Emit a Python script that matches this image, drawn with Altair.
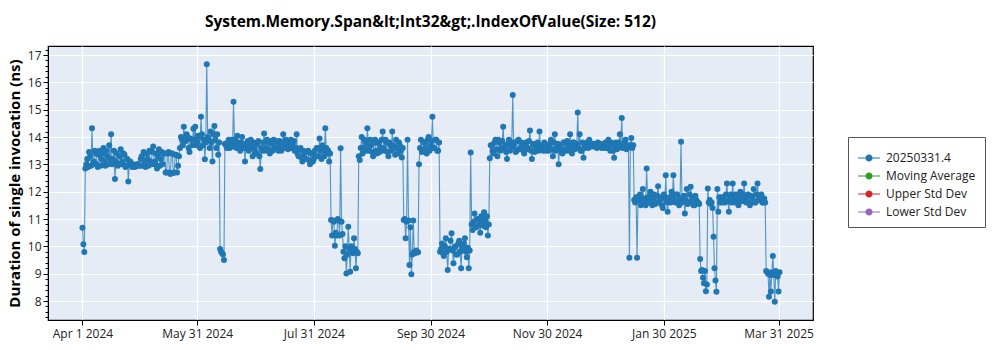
import altair as alt
import pandas as pd

FONT = "Open Sans"
series_name = "20250331.4"
legend_names = ["20250331.4", "Moving Average", "Upper Std Dev", "Lower Std Dev"]
legend_colors = ["#1f77b4", "#2ca02c", "#d62728", "#9467bd"]
tick_dates = ["2024-04-01", "2024-05-31", "2024-07-31", "2024-09-30",
              "2024-11-30", "2025-01-30", "2025-03-31"]

# first run of each day (00:00)
apr_2024_a = [10.68, 9.79, 13.0, 12.9, 13.3, 14.32, 13.1, 13.4, 12.9, 13.5,
              13.2, 13.6, 12.95, 13.3, 13.7, 14.1, 13.2, 12.46, 13.4, 13.0,
              13.55, 13.1, 13.35, 12.95, 12.37, 13.1, 12.9, 12.95, 12.95, 13.0]
may_2024_a = [12.95, 13.3, 13.45, 12.9, 13.2, 13.5, 13.0, 13.65, 13.1, 12.85,
              13.55, 13.2, 13.0, 13.4, 12.7, 13.45, 12.65, 13.4, 12.7, 13.35,
              12.95, 13.6, 13.9, 14.38, 13.85, 14.0, 13.45, 13.9, 14.3, 14.38, 13.8]
jun_2024_a = [14.0, 14.74, 13.7, 13.19, 16.66, 13.9, 14.2, 13.1, 14.4, 13.6,
              13.35, 9.9, 9.75, 9.5, 13.7, 13.8, 13.6, 13.9, 15.29, 13.75,
              14.05, 13.7, 13.8, 13.6, 13.1, 13.7, 13.5, 13.9, 13.3, 13.6]
jul_2024_a = [13.4, 13.85, 12.83, 13.5, 14.13, 13.6, 13.8, 13.4, 13.75, 13.9,
              13.6, 13.7, 13.85, 13.5, 14.1, 13.7, 13.8, 13.6, 13.9, 13.7,
              13.5, 14.1, 13.3, 13.6, 13.1, 13.4, 13.2, 13.5, 13.0, 13.4, 13.2]
aug_2024_a = [13.3, 13.6, 13.95, 13.2, 13.5, 14.32, 13.4, 13.1, 10.96, 10.95,
              10.02, 10.4, 10.95, 13.59, 10.45, 9.56, 9.01, 10.72, 9.07, 9.8,
              10.3, 9.2, 9.75, 13.16, 14.0, 13.6, 13.8, 14.32, 13.5, 13.7, 13.3]
sep_2024_a = [13.9, 13.4, 13.75, 13.6, 14.2, 13.5, 13.8, 13.3, 13.7, 14.2,
              13.6, 13.9, 13.4, 13.7, 13.25, 10.96, 10.3, 13.9, 9.32, 8.98,
              10.95, 9.75, 9.8, 13.0, 13.9, 13.5, 13.8, 13.4, 14.0, 13.7]
oct_2024_a = [14.74, 13.6, 13.9, 13.5, 9.8, 10.1, 9.65, 10.3, 9.13, 9.9,
              10.48, 9.38, 10.0, 9.7, 10.2, 9.2, 9.9, 10.3, 9.6, 9.2,
              13.43, 10.6, 11.2, 10.7, 11.0, 10.5, 10.9, 11.25, 10.7, 10.4, 13.22]
nov_2024_a = [13.7, 13.4, 13.9, 13.3, 13.8, 13.6, 14.38, 13.7, 13.2, 13.9,
              13.6, 15.54, 13.8, 13.5, 13.9, 13.6, 13.7, 13.4, 13.8, 13.6,
              14.24, 13.2, 13.7, 13.5, 13.8, 14.2, 13.6, 13.5, 13.75, 13.6]
dec_2024_a = [13.5, 13.9, 13.3, 14.1, 13.6, 13.0, 13.7, 13.4, 13.8, 13.5,
              13.7, 14.1, 13.4, 13.8, 13.6, 14.9, 14.1, 13.5, 13.24, 13.7,
              13.8, 13.9, 13.65, 13.75, 13.7, 13.6, 13.7, 13.75, 13.65, 13.6, 13.8]
jan_2025_a = [13.9, 13.5, 13.75, 13.24, 13.8, 13.6, 14.1, 14.7, 13.7, 13.9,
              13.6, 9.58, 13.96, 13.7, 11.6, 9.58, 11.8, 11.5, 12.1, 11.6,
              12.85, 11.7, 12.0, 11.5, 11.9, 11.6, 12.2, 11.7, 11.5, 11.9, 12.6]
feb_2025_a = [11.27, 11.8, 12.0, 12.6, 11.6, 11.9, 11.5, 13.83, 11.7, 11.2,
              12.1, 11.6, 12.18, 11.8, 11.5, 11.7, 11.6, 9.54, 9.13, 8.65,
              8.36, 12.12, 11.7, 11.6, 10.35, 8.75, 12.1, 11.8]
mar_2025_a = [11.8, 11.8, 11.6, 12.3, 11.27, 11.9, 12.3, 11.6, 11.8, 11.5,
              12.0, 11.7, 12.3, 11.6, 11.9, 11.5, 11.8, 12.1, 11.6, 12.3,
              11.7, 11.9, 11.6, 11.6, 9.07, 8.16, 8.35, 9.65, 7.97, 9.0, 8.35]

# second run of each day (12:00)
apr_2024_b = [10.08, 12.85, 13.2, 13.45, 12.95, 13.0, 13.5, 13.0, 13.35, 12.95,
              13.4, 13.1, 13.5, 13.0, 13.2, 13.0, 13.5, 13.1, 12.95, 13.3,
              13.0, 13.4, 12.9, 13.2, 13.0, 12.95, 13.0, 12.9, 13.0, 12.95]
may_2024_b = [13.2, 12.95, 13.1, 13.4, 12.95, 13.1, 13.45, 13.0, 13.4, 13.3,
              12.95, 13.45, 13.4, 12.7, 13.4, 12.7, 13.4, 12.68, 13.35, 12.7,
              13.3, 14.0, 13.7, 13.9, 14.1, 13.6, 13.95, 13.7, 13.9, 13.7, 14.05]
jun_2024_b = [13.6, 14.1, 13.9, 13.8, 14.0, 13.6, 13.8, 14.1, 13.9, 14.1,
              13.8, 9.8, 9.7, 13.75, 13.6, 13.9, 13.75, 13.65, 13.9, 13.6,
              13.8, 13.5, 14.0, 13.75, 13.6, 13.85, 13.7, 13.6, 13.8, 13.45]
jul_2024_b = [13.75, 13.3, 13.6, 13.8, 13.5, 13.9, 13.55, 13.85, 13.5, 13.6,
              13.85, 13.5, 13.6, 13.8, 13.6, 13.9, 13.55, 13.8, 13.6, 13.85,
              13.6, 13.4, 13.55, 13.25, 13.5, 13.2, 13.45, 13.15, 13.4, 13.1, 13.5]
aug_2024_b = [13.6, 13.3, 13.5, 13.7, 13.3, 13.6, 13.5, 13.4, 10.4, 10.9,
              10.5, 11.0, 10.4, 10.9, 9.8, 10.0, 9.7, 9.9, 10.0, 9.75,
              9.9, 9.8, 13.3, 13.6, 13.4, 13.9, 13.5, 13.7, 13.9, 13.45, 13.8]
sep_2024_b = [13.5, 13.8, 13.45, 13.9, 13.6, 13.9, 13.45, 13.8, 13.5, 13.7,
              13.35, 13.6, 13.8, 13.5, 13.6, 11.0, 10.9, 10.95, 10.7, 9.7,
              9.8, 9.85, 9.78, 13.6, 13.45, 13.8, 13.6, 13.9, 13.5, 13.85]
oct_2024_b = [13.6, 13.9, 13.5, 13.8, 9.9, 9.75, 10.0, 9.8, 9.9, 10.2,
              9.85, 9.95, 9.7, 10.1, 9.8, 9.95, 10.1, 9.8, 9.95, 9.85,
              10.8, 10.9, 10.7, 11.0, 10.8, 11.1, 10.75, 10.95, 11.1, 10.8, 13.7]
nov_2024_b = [13.5, 13.8, 13.55, 13.9, 13.5, 13.85, 13.6, 13.45, 13.75, 13.5,
              13.8, 13.65, 13.45, 13.85, 13.55, 13.8, 13.5, 13.75, 13.55, 13.85,
              13.5, 13.75, 13.45, 13.7, 13.5, 13.7, 13.55, 13.8, 13.5, 13.7]
dec_2024_b = [13.75, 13.55, 13.8, 13.5, 13.75, 13.6, 13.45, 13.8, 13.55, 13.85,
              13.5, 13.7, 13.8, 13.55, 13.75, 13.6, 13.5, 13.8, 13.6, 13.75,
              13.6, 13.7, 13.75, 13.65, 13.7, 13.8, 13.65, 13.6, 13.7, 13.8, 13.6]
jan_2025_b = [13.6, 13.8, 13.5, 13.7, 13.55, 13.8, 13.7, 13.6, 13.8, 13.55,
              13.7, 13.7, 13.6, 11.7, 11.8, 11.7, 11.9, 11.6, 11.75, 11.5,
              11.8, 11.6, 11.9, 11.7, 11.55, 11.85, 11.6, 11.8, 11.4, 11.75, 11.6]
feb_2025_b = [11.75, 11.6, 11.85, 11.7, 11.9, 11.6, 11.75, 11.6, 11.85, 11.7,
              11.55, 11.9, 11.65, 11.5, 11.85, 11.6, 11.55, 9.1, 8.85, 9.1,
              8.6, 11.6, 11.55, 11.4, 9.2, 8.34, 11.27, 11.6]
mar_2025_b = [11.6, 11.7, 11.9, 11.65, 11.8, 11.6, 11.75, 11.9, 11.6, 11.8,
              11.65, 11.9, 11.7, 11.8, 11.6, 11.85, 11.7, 11.6, 11.9, 11.7,
              11.8, 11.6, 11.75, 9.1, 9.0, 8.95, 9.05, 8.95, 9.1, 8.9, 9.05]

runs_a = (apr_2024_a + may_2024_a + jun_2024_a + jul_2024_a + aug_2024_a +
          sep_2024_a + oct_2024_a + nov_2024_a + dec_2024_a + jan_2025_a +
          feb_2025_a + mar_2025_a)
runs_b = (apr_2024_b + may_2024_b + jun_2024_b + jul_2024_b + aug_2024_b +
          sep_2024_b + oct_2024_b + nov_2024_b + dec_2024_b + jan_2025_b +
          feb_2025_b + mar_2025_b)

days = pd.date_range("2024-04-01", periods=len(runs_a), freq="D")
rows = []
for day, va, vb in zip(days, runs_a, runs_b):
    rows.append({"date": day.strftime("%Y-%m-%dT00:00:00"), "value": va,
                 "series": series_name})
    rows.append({"date": day.strftime("%Y-%m-%dT12:00:00"), "value": vb,
                 "series": series_name})
df = pd.DataFrame(rows)


def dt(s):
    y, m, d = (int(p) for p in s.split("-"))
    return alt.DateTime(year=y, month=m, date=d)


x_scale = alt.Scale(domain=[dt("2024-03-14"), dt("2025-04-18")])
y_scale = alt.Scale(domain=[7.305, 17.33], nice=False, zero=False)

legend_path = ("M-1,0L1,0M-0.27,0A0.27,0.27,0,1,1,0.27,0"
               "A0.27,0.27,0,1,1,-0.27,0Z")


def make_legend():
    return alt.Legend(
        title=None, orient="none", legendX=800, legendY=91,
        fillColor="white", strokeColor="#555555", padding=9,
        symbolType=legend_path, symbolSize=484, symbolStrokeWidth=1.2,
        symbolOpacity=1,
        labelFont=FONT, labelFontSize=12, labelColor="#222222", labelOffset=5,
        rowPadding=0,
    )


is_major = "abs(datum.value - round(datum.value)) < 0.01"

x_enc = alt.X("date:T", scale=x_scale, title=None,
              axis=alt.Axis(values=[dt(s) for s in tick_dates],
                            format="%b %-d %Y", labelFont=FONT,
                            labelFontSize=12, labelColor="#222222",
                            tickColor="black", domainColor="black",
                            tickSize=5, labelPadding=3, gridColor="white",
                            gridWidth=1.2, labelFlush=False))
y_enc = alt.Y("value:Q", scale=y_scale,
              title="Duration of single invocation (ns)",
              axis=alt.Axis(values=[round(7.4 + 0.2 * i, 1) for i in range(50)],
                            labelExpr=is_major + " ? format(round(datum.value), 'd') : ''",
                            tickSize={"expr": is_major + " ? 5 : 3"},
                            gridOpacity={"expr": is_major + " ? 1 : 0"},
                            labelFont=FONT, labelFontSize=12,
                            labelColor="#222222", tickColor="black",
                            domainColor="black", gridColor="white",
                            gridWidth=1.2, titleFont=FONT, titleFontSize=15,
                            titleFontWeight="bold", titleColor="black",
                            titlePadding=5))

stroke_enc = alt.Stroke("series:N",
                        scale=alt.Scale(domain=legend_names, range=legend_colors),
                        legend=make_legend())
fill_enc = alt.Fill("series:N",
                    scale=alt.Scale(domain=legend_names, range=legend_colors),
                    legend=make_legend())

base = alt.Chart(df).encode(x=x_enc, y=y_enc)
line = base.mark_line(strokeWidth=1.1, opacity=0.75).encode(stroke=stroke_enc)
pts = base.mark_circle(size=36, opacity=1).encode(fill=fill_enc)

chart = alt.layer(line, pts).properties(
    width=765, height=274,
    title=alt.TitleParams("System.Memory.Span&lt;Int32&gt;.IndexOfValue(Size: 512)",
                          font=FONT, fontSize=15.5, fontWeight="bold",
                          color="black", anchor="middle", offset=16),
    autosize=alt.AutoSizeParams(type="none"),
    padding={"left": 48, "top": 46, "right": 187, "bottom": 30},
).configure(
    background="white",
    view=alt.ViewConfig(fill="#E5ECF6", stroke="black", strokeWidth=1.2),
)

chart.save("out.html", embed_options={"renderer": "svg", "actions": False})
